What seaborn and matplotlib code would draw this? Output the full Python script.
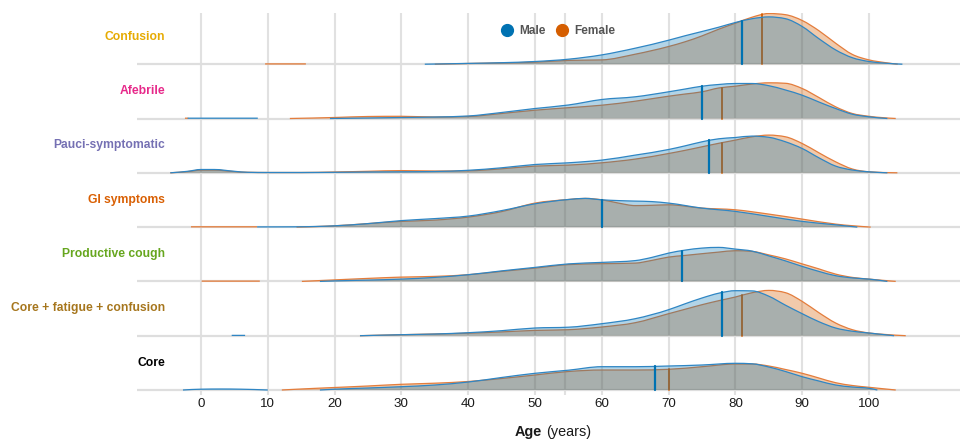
import numpy as np
import pandas as pd
import matplotlib
matplotlib.use("Agg")
import matplotlib.pyplot as plt
from matplotlib.path import Path
from matplotlib.patches import PathPatch
from matplotlib.lines import Line2D
import seaborn as sns

nan = np.nan

symptoms = ["Confusion", "Afebrile", "Pauci-symptomatic", "GI symptoms",
            "Productive cough", "Core + fatigue + confusion", "Core"]

median_male = [81, 75, 76, 60, 72, 78, 68]
median_female = [84, 78, 78, 60, 72, 81, 70]

age_ticks = list(range(0, 101, 10))

# Age profiles (relative density); nan separates detached pieces of a curve
confusion_male_age = [33.5, 40, 45, 50, 55, 60, 65, 70, 72.5, 75, 77.5, 80, 82.5,
                      85, 87.5, 90, 92.5, 95, 97.5, 100, 102.5, 105]
confusion_male_density = [0, 0.8, 1.5, 2.7, 5, 9.3, 16, 24, 28.5, 32.7, 37, 41.7, 45.5,
                          47.3, 45.5, 37.7, 25.5, 14.3, 6.5, 2.7, 1, 0]
confusion_female_age = [9.6, 15.7, nan,
                        35, 40, 45, 50, 55, 60, 65, 70, 72.5, 75, 77.5, 80, 82.5,
                        85, 87.5, 90, 92.5, 95, 97.5, 100, 102.5, 104.3]
confusion_female_density = [0.3, 0.3, nan,
                            0, 0.7, 1.3, 2, 3.8, 4.3, 10, 17.7, 22.5, 28.3, 35, 41, 47,
                            50.7, 49.5, 43.7, 33.5, 21, 9.8, 4.3, 1.5, 0]

afebrile_male_age = [-2, 8.5, nan,
                     19.3, 25, 30, 35, 40, 45, 50, 55, 60, 65, 70, 72.5, 75, 77.5, 80,
                     82.5, 85, 87.5, 90, 92.5, 95, 97.5, 100, 102.75]
afebrile_male_density = [0.3, 0.3, nan,
                         0, 0.5, 1, 1.5, 2.5, 6, 10, 13.5, 19, 21.7, 26.7, 29.5, 32.3, 34, 35,
                         35, 32.8, 28.5, 23.3, 16.5, 10, 4.3, 1.7, 0]
afebrile_female_age = [-2.4, -1.9, nan,
                       13.3, 20, 25, 30, 35, 40, 45, 50, 55, 60, 65, 70, 72.5, 75, 77.5,
                       80, 82.5, 85, 87.5, 90, 92.5, 95, 97.5, 100, 104]
afebrile_female_density = [0.3, 0.3, nan,
                           0, 1, 2, 2.2, 1.5, 2, 5, 8.3, 10.8, 13.3, 17.3, 22.3, 24.5, 26.7, 30.5,
                           32.3, 34.5, 35.7, 35.2, 30, 21, 11.7, 5, 2.2, 0]

pauci_male_age = [-4.6, -2, 0, 2, 5, 7, 10, 15, 20, 25, 30, 35, 40, 45, 50, 55, 60, 65,
                  70, 72.5, 75, 77.5, 80, 82.5, 85, 87.5, 90, 92.5, 95, 97.5, 100, 102.75]
pauci_male_density = [0, 1.5, 3.3, 3.3, 1.5, 0.5, 0.3, 0.3, 0.5, 0.8, 1, 1.3, 2.5, 5, 8.3,
                      10, 12.7, 17.7, 23.3, 27, 31, 34, 35.3, 36.7, 35.5, 31, 24.3, 15,
                      6.7, 2.8, 1, 0]
pauci_female_age = [-4.6, -2, 0, 2, 5, 7, 10, 15, 20, 25, 30, 35, 40, 45, 50, 55, 60, 65,
                    70, 72.5, 75, 77.5, 80, 82.5, 85, 87.5, 90, 92.5, 95, 97.5, 100, 104.25]
pauci_female_density = [0, 1.2, 2.7, 2.7, 1.2, 0.5, 0.3, 0.3, 0.8, 1.5, 2.2, 1.8, 2, 4, 6.7,
                        7.7, 10, 13.7, 19.3, 22.5, 26, 29.5, 32.7, 36, 37.7, 36, 29.3, 20,
                        11, 3.8, 1, 0]

gi_male_age = [8.4, 14.3, 20, 25, 30, 35, 40, 45, 50, 55, 57.5, 60, 62.5, 65, 67.5, 70,
               75, 80, 85, 90, 95, 98.25]
gi_male_density = [0.2, 0.3, 1.3, 3.5, 6.5, 8.5, 11, 16.5, 23.3, 27.6, 28.7, 27.3, 26.5,
                   26, 25.5, 24, 19, 15.7, 10.7, 5.7, 2.3, 0]
gi_female_age = [-1.5, 8.4, nan,
                 14.3, 20, 25, 30, 35, 40, 45, 50, 55, 57.5, 60, 62.5, 65, 67.5, 70,
                 75, 80, 85, 90, 95, 100.25]
gi_female_density = [0.3, 0.3, nan,
                     0, 1.3, 3.5, 5.7, 7, 10, 15.5, 24, 27.6, 28.7, 27.3, 24, 21.5, 21.8,
                     22.3, 19, 17.3, 13, 8, 3, 0]

cough_male_age = [17.8, 20, 25, 30, 35, 40, 45, 50, 55, 60, 65, 67.5, 70, 72.5, 75, 77.5,
                  80, 82.5, 85, 87.5, 90, 92.5, 95, 97.5, 100, 102.75]
cough_male_density = [0, 0.5, 1.3, 2.3, 4, 6.7, 10.5, 14, 17.5, 19, 20.8, 24, 28.3, 31.3,
                      33.3, 34, 32.3, 30.3, 25.5, 20.5, 15, 10, 5.7, 3.5, 2.3, 0]
cough_female_age = [0.1, 8.8, nan,
                    15.1, 20, 25, 30, 35, 40, 45, 50, 55, 60, 65, 67.5, 70, 72.5, 75,
                    77.5, 80, 82.5, 85, 87.5, 90, 92.5, 95, 97.5, 100, 104]
cough_female_density = [0.3, 0.3, nan,
                        0, 1.5, 3, 4.3, 5, 6.7, 10, 13.3, 16.8, 17.7, 18.3, 21, 24.3, 26,
                        27.7, 29.3, 30.7, 30, 26.5, 22.5, 17.5, 12.5, 7.3, 4, 2.3, 0]

cfc_male_age = [4.6, 6.6, nan,
                23.8, 30, 35, 40, 45, 50, 55, 60, 65, 70, 72.5, 75, 77.5, 80, 82.5,
                85, 87.5, 90, 92.5, 95, 97.5, 100, 103.75]
cfc_male_density = [0.3, 0.3, nan,
                    0, 1, 1.7, 3, 5, 7.7, 8.5, 12, 17, 26, 32, 37.7, 42.5, 45, 44.8,
                    39.5, 30.5, 22, 14, 7.7, 4.5, 2.7, 0]
cfc_female_age = [23.8, 30, 35, 40, 45, 50, 55, 60, 65, 70, 72.5, 75, 77.5, 80, 82.5,
                  85, 87.5, 90, 92.5, 95, 97.5, 100, 102.5, 105.5]
cfc_female_density = [0, 1, 1.7, 2.5, 3.8, 5.3, 6, 8.7, 13, 22, 26.5, 31, 35, 38.7, 43,
                      45.3, 43, 34.3, 23, 12.7, 6, 2.7, 1.2, 0]

core_male_age = [-2.7, 0, 3, 6, 10, nan,
                 17.8, 20, 25, 30, 35, 40, 45, 50, 55, 60, 65, 70, 75, 80, 82.5, 85,
                 87.5, 90, 92.5, 95, 97.5, 100, 101.25]
core_male_density = [0, 0.8, 1, 0.8, 0, nan,
                     0, 0.8, 2, 3.3, 5, 8, 12.5, 16.7, 19.8, 23.3, 23.3, 24, 25, 26.7,
                     26.2, 23, 18.5, 13.3, 9, 5, 3, 1.7, 0]
core_female_age = [12.1, 15, 20, 25, 30, 35, 40, 45, 50, 55, 60, 65, 70, 75, 80, 82.5,
                   85, 87.5, 90, 92.5, 95, 97.5, 100, 104]
core_female_density = [0, 1, 2.5, 4, 5.7, 6.8, 8.5, 11.5, 15, 18.5, 20, 20, 20.7, 23.3,
                       26, 26, 24, 20.5, 16.7, 12, 7.3, 4.5, 2.7, 0]

male_profiles = [
    (confusion_male_age, confusion_male_density),
    (afebrile_male_age, afebrile_male_density),
    (pauci_male_age, pauci_male_density),
    (gi_male_age, gi_male_density),
    (cough_male_age, cough_male_density),
    (cfc_male_age, cfc_male_density),
    (core_male_age, core_male_density),
]
female_profiles = [
    (confusion_female_age, confusion_female_density),
    (afebrile_female_age, afebrile_female_density),
    (pauci_female_age, pauci_female_density),
    (gi_female_age, gi_female_density),
    (cough_female_age, cough_female_density),
    (cfc_female_age, cfc_female_density),
    (core_female_age, core_female_density),
]

MALE = "#0072b2"
FEMALE = "#d55e00"
MALE_LINE = "#2f86c4"
FEMALE_LINE = "#e47d3c"
MALE_ALPHA = 0.30
FEMALE_ALPHA = 0.33
GRID = "#e1e1e1"
ROW_STEP = 54.3


def pieces(age, dens):
    a = np.asarray(age, float)
    d = np.asarray(dens, float)
    cuts = np.where(np.isnan(a))[0]
    out = []
    for xa, ya in zip(np.split(a, cuts), np.split(d, cuts)):
        keep = ~np.isnan(xa)
        if keep.sum() > 1:
            out.append((xa[keep], ya[keep]))
    return out


def tangents(x, y):
    """Monotone slopes, so the drawn curve never overshoots the profile values."""
    n = len(x)
    if n < 3:
        s = (y[-1] - y[0]) / (x[-1] - x[0])
        return np.full(n, s)
    h = np.diff(x)
    s = np.diff(y) / h
    m = np.zeros(n)
    for k in range(1, n - 1):
        if s[k - 1] * s[k] <= 0:
            m[k] = 0.0
        else:
            p = (s[k - 1] * h[k] + s[k] * h[k - 1]) / (h[k - 1] + h[k])
            m[k] = np.sign(s[k]) * min(abs(s[k - 1]), abs(s[k]), 0.5 * abs(p)) * 2
    m[0] = (3 * s[0] - m[1]) / 2
    m[-1] = (3 * s[-1] - m[-2]) / 2
    if s[0] * m[0] <= 0:
        m[0] = 0.0
    if s[-1] * m[-1] <= 0:
        m[-1] = 0.0
    return m


def curve_path(x, y, base):
    m = tangents(x, y)
    verts = [(x[0], base + y[0])]
    codes = [Path.MOVETO]
    for k in range(len(x) - 1):
        h = x[k + 1] - x[k]
        verts += [(x[k] + h / 3, base + y[k] + m[k] * h / 3),
                  (x[k + 1] - h / 3, base + y[k + 1] - m[k + 1] * h / 3),
                  (x[k + 1], base + y[k + 1])]
        codes += [Path.CURVE4] * 3
    return verts, codes


def area_path(segs, base):
    verts, codes = [], []
    for x, y in segs:
        cv, cc = curve_path(x, y, base)
        verts += [(x[0], base)] + cv + [(x[-1], base), (x[0], base)]
        codes += [Path.MOVETO, Path.LINETO] + cc[1:] + [Path.LINETO, Path.CLOSEPOLY]
    return Path(verts, codes)


def line_path(segs, base):
    verts, codes = [], []
    for x, y in segs:
        cv, cc = curve_path(x, y, base)
        verts += cv
        codes += cc
    return Path(verts, codes)


def value_at(segs, xq):
    """Height of the drawn curve at xq (cubic Hermite on the same slopes)."""
    for x, y in segs:
        if x[0] <= xq <= x[-1]:
            m = tangents(x, y)
            k = min(np.searchsorted(x, xq, side="right") - 1, len(x) - 2)
            h = x[k + 1] - x[k]
            t = (xq - x[k]) / h
            return ((2 * t**3 - 3 * t**2 + 1) * y[k] + (t**3 - 2 * t**2 + t) * h * m[k]
                    + (-2 * t**3 + 3 * t**2) * y[k + 1] + (t**3 - t**2) * h * m[k + 1])
    return 0.0


sns.set_theme(style="white")
plt.rcParams["font.family"] = ["Liberation Sans", "DejaVu Sans"]
dark2 = sns.color_palette("Dark2")
symptom_colors = [dark2[5], dark2[3], dark2[2], dark2[1], dark2[4], dark2[6], "#000000"]

fig = plt.figure(figsize=(9.64, 4.43), dpi=100)
ax = fig.add_axes([137 / 964, (443 - 395) / 443, (960 - 137) / 964, (395 - 13) / 443])

ax.set_xlim((137 - 201) / 6.68, (960 - 201) / 6.68)
ax.set_ylim(-5, 377)

# vertical grid
for t in age_ticks + [54.5]:
    ax.axvline(t, color=GRID, lw=1.5, zorder=0)

n = len(symptoms)
median_rows = []
for i, name in enumerate(symptoms):
    base = (n - 1 - i) * ROW_STEP
    ax.axhline(base, color="#dedede", lw=1.6, zorder=1)

    msegs = pieces(*male_profiles[i])
    fsegs = pieces(*female_profiles[i])

    # female layer first, the translucent male layer over it turns the overlap grey
    ax.add_patch(PathPatch(area_path(fsegs, base), facecolor=FEMALE, alpha=FEMALE_ALPHA,
                           lw=0, zorder=2))
    ax.add_patch(PathPatch(line_path(fsegs, base), fill=False, edgecolor=FEMALE_LINE,
                           lw=0.9, zorder=3))
    ax.add_patch(PathPatch(area_path(msegs, base), facecolor=MALE, alpha=MALE_ALPHA,
                           lw=0, zorder=5))
    ax.add_patch(PathPatch(line_path(msegs, base), fill=False, edgecolor=MALE_LINE,
                           lw=0.9, zorder=6))

    # median markers reach up to each curve
    for sex, med, segs in (("Female", median_female[i], fsegs),
                           ("Male", median_male[i], msegs)):
        top = base + value_at(segs, med)
        median_rows.append({"age": med, "y": base, "sex": sex, "row": f"{i}{sex}"})
        median_rows.append({"age": med, "y": top, "sex": sex, "row": f"{i}{sex}"})

    ax.text(-5.4, base + 27.5, name, ha="right", va="center", fontsize=8.7,
            fontweight="bold", color=symptom_colors[i], clip_on=False)

medians = pd.DataFrame(median_rows)
for sex, color, lw, z in (("Female", FEMALE, 1.3, 4), ("Male", MALE, 1.6, 7)):
    sns.lineplot(data=medians[medians.sex == sex], x="age", y="y", units="row",
                 estimator=None, sort=False, color=color, lw=lw, legend=False,
                 ax=ax, zorder=z)

ax.set_xticks(age_ticks)
ax.set_xticklabels([str(t) for t in age_ticks])
ax.set_yticks([])
ax.set_xlabel("")
ax.set_ylabel("")
ax.tick_params(axis="x", length=0, pad=2.5, labelsize=9.6, labelcolor="#1a1a1a")
sns.despine(ax=ax, left=True, bottom=True)

fig.text(542 / 964, 1 - 432 / 443, "Age", ha="right", va="center",
         fontsize=10.4, fontweight="bold", color="#1a1a1a")
fig.text(546 / 964, 1 - 432 / 443, "(years)", ha="left", va="center",
         fontsize=10.4, color="#1a1a1a")

handles = [Line2D([], [], ls="", marker="o", markersize=8.5, color=MALE),
           Line2D([], [], ls="", marker="o", markersize=8.5, color=FEMALE)]
fig.legend(handles, ["Male", "Female"], loc="center left",
           bbox_to_anchor=(495 / 964, 1 - 31 / 443), ncol=2, frameon=False,
           borderpad=0, handlelength=1.0, handletextpad=0.5, columnspacing=0.9,
           prop={"weight": "bold", "size": 8.6}, labelcolor="#555555")

fig.savefig("out.png", dpi=100)
